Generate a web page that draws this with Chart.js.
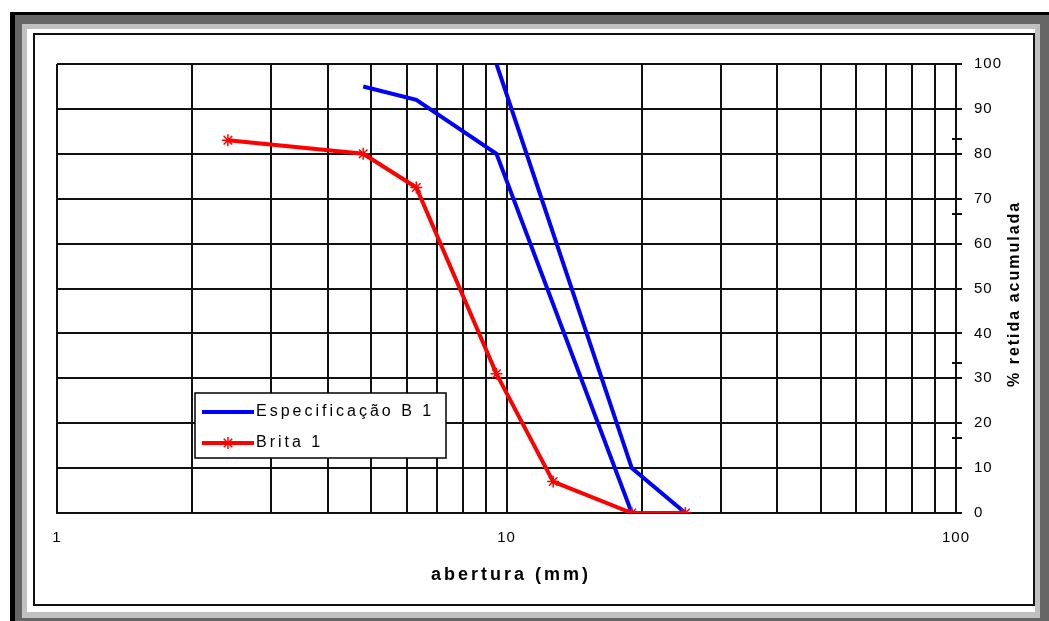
<!DOCTYPE html>
<html>
<head>
<meta charset="utf-8">
<script src="https://cdn.jsdelivr.net/npm/chart.js@4.4.0/dist/chart.umd.min.js"></script>
<style>
	html, body { margin: 0; padding: 0; background: #fff; }
	#wrap { position: relative; width: 1049px; height: 621px; overflow: hidden; }
	.f { position: absolute; }
</style>
</head>
<body>
<div id="wrap">
	<div class="f" style="left:10px;top:12px;right:0;bottom:0;background:#000"></div>
	<div class="f" style="left:15px;top:15px;right:0;bottom:0;background:#666"></div>
	<div class="f" style="left:22px;top:24px;right:9px;bottom:3px;background:#c0c0c0"></div>
	<div class="f" style="left:27px;top:29px;right:14px;bottom:9px;background:#fff"></div>
	<div class="f" style="left:33px;top:33px;width:1002px;height:573px;box-sizing:border-box;border:2px solid #111"></div>
	<canvas id="chart" class="f" width="1049" height="621" style="left:0;top:0"></canvas>
</div>
<script>
// spec envelope is drawn as one path (upper limit, then back along the lower limit)
const specX = [9.5, 19, 25, 19, 9.5, 6.3, 4.8];
const specY = [100, 10, 0, 0, 80, 92, 95];
const britaX = [2.4, 4.8, 6.3, 9.5, 12.7, 19, 25];
const britaY = [83, 80, 72.5, 31, 7, 0, 0];
const seriesNames = ["Especificação B 1", "Brita 1"];
const xGrid = [1, 2, 3, 4, 5, 6, 7, 8, 9, 10, 20, 30, 40, 50, 60, 70, 80, 90, 100];
const xLabels = [1, 10, 100];
const yMarks = [16.7, 33.3, 66.7, 83.3];
const xTitle = "abertura (mm)";
const yTitle = "% retida acumulada";

const FONT = '"Liberation Sans", Arial, sans-serif';
const GRID = "#111";

const toPoints = (xs, ys) => xs.map((x, i) => ({ x, y: ys[i] }));

function drawStar(ctx, x, y, r) {
	ctx.beginPath();
	ctx.moveTo(x - r, y); ctx.lineTo(x + r, y);
	ctx.moveTo(x, y - r); ctx.lineTo(x, y + r);
	const d = r * Math.SQRT1_2;
	ctx.moveTo(x - d, y - d); ctx.lineTo(x + d, y + d);
	ctx.moveTo(x - d, y + d); ctx.lineTo(x + d, y - d);
	ctx.stroke();
}

const excelTouches = {
	id: "excelTouches",
	beforeDraw(chart) {
		chart.ctx.letterSpacing = "1px";
	},
	afterDraw(chart) {
		const { ctx, chartArea, scales } = chart;
		ctx.save();

		// little marks across the right axis
		ctx.strokeStyle = GRID;
		ctx.lineWidth = 2;
		yMarks.forEach((v) => {
			const y = Math.round(scales.y.getPixelForValue(v));
			ctx.beginPath();
			ctx.moveTo(chartArea.right - 4, y);
			ctx.lineTo(chartArea.right + 6, y);
			ctx.stroke();
		});

		// axis titles
		ctx.fillStyle = "#000";
		ctx.font = `bold 18px ${FONT}`;
		ctx.letterSpacing = "3px";
		ctx.textAlign = "center";
		ctx.textBaseline = "middle";
		ctx.fillText(xTitle, 511, 575);

		ctx.save();
		ctx.font = `bold 16px ${FONT}`;
		ctx.letterSpacing = "2px";
		ctx.translate(1015, 387);
		ctx.rotate(-Math.PI / 2);
		ctx.textAlign = "left";
		ctx.fillText(yTitle, 0, 0);
		ctx.restore();

		// legend box
		const lg = { left: 195, top: 393, right: 446, bottom: 458 };
		ctx.fillStyle = "#fff";
		ctx.fillRect(lg.left, lg.top, lg.right - lg.left, lg.bottom - lg.top);
		ctx.strokeStyle = "#000";
		ctx.lineWidth = 1.5;
		ctx.strokeRect(lg.left, lg.top, lg.right - lg.left, lg.bottom - lg.top);

		ctx.font = `16px ${FONT}`;
		ctx.letterSpacing = "3px";
		ctx.textAlign = "left";
		chart.data.datasets.forEach((ds, i) => {
			const y = lg.top + 19 + i * 31;
			ctx.strokeStyle = ds.borderColor;
			ctx.lineWidth = ds.borderWidth;
			ctx.beginPath();
			ctx.moveTo(202, y);
			ctx.lineTo(254, y);
			ctx.stroke();
			if (ds.pointRadius > 0) {
				ctx.lineWidth = ds.pointBorderWidth;
				drawStar(ctx, 228, y, ds.pointRadius);
			}
			ctx.fillStyle = "#000";
			ctx.fillText(ds.label, 256, y);
		});

		ctx.restore();
	},
};

new Chart(document.getElementById("chart").getContext("2d"), {
	type: "scatter",
	data: {
		datasets: [
			{
				label: seriesNames[0],
				data: toPoints(specX, specY),
				showLine: true,
				borderColor: "#0000ff",
				backgroundColor: "#0000ff",
				borderWidth: 4,
				pointRadius: 0,
				order: 1,
			},
			{
				label: seriesNames[1],
				data: toPoints(britaX, britaY),
				showLine: true,
				borderColor: "#ff0000",
				backgroundColor: "#ff0000",
				borderWidth: 4,
				pointStyle: "star",
				pointRadius: 6,
				pointBorderColor: "#ff0000",
				pointBorderWidth: 1.5,
				order: 0,
			},
		],
	},
	options: {
		responsive: false,
		animation: false,
		devicePixelRatio: 1,
		layout: { padding: { left: 57, top: 64, right: 0, bottom: 0 } },
		plugins: {
			legend: { display: false },
			tooltip: { enabled: false },
		},
		scales: {
			x: {
				type: "logarithmic",
				min: 1,
				max: 100,
				afterBuildTicks: (s) => { s.ticks = xGrid.map((value) => ({ value })); },
				afterFit: (s) => { s.height = 108; },
				grid: { color: GRID, lineWidth: 2, drawTicks: false },
				border: { color: GRID, width: 2 },
				ticks: {
					autoSkip: false,
					maxRotation: 0,
					padding: 16,
					color: "#000",
					font: { family: FONT, size: 15 },
					callback: (v) => (xLabels.includes(v) ? String(v) : ""),
				},
			},
			y: {
				position: "right",
				min: 0,
				max: 100,
				afterFit: (s) => { s.width = 93; },
				grid: { color: GRID, lineWidth: 2, tickLength: 6 },
				border: { color: GRID, width: 2 },
				ticks: {
					stepSize: 10,
					padding: 12,
					color: "#000",
					font: { family: FONT, size: 15 },
				},
			},
		},
	},
	plugins: [excelTouches],
});
</script>
</body>
</html>
